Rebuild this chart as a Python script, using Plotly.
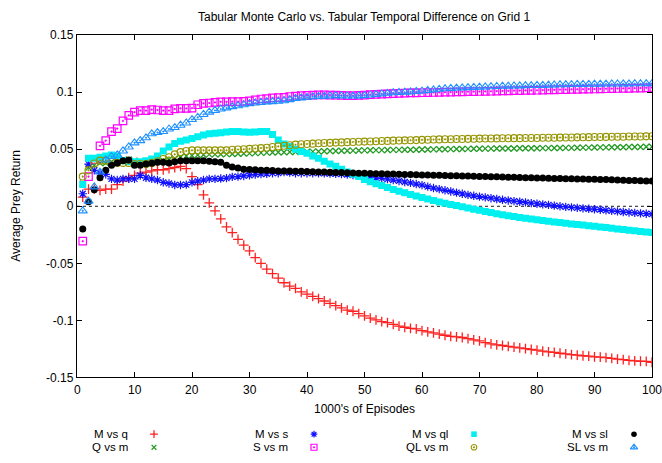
import plotly.graph_objects as go

W, H = 662, 463
ML, MR, MT, MB = 77, 10, 29, 81

episodes = list(range(1, 101))

m_vs_q = [0.008, 0.015, 0.015, 0.014, 0.015, 0.015, 0.019, 0.022, 0.025, 0.027,
          0.029, 0.030, 0.031, 0.032, 0.032, 0.033, 0.034, 0.035, 0.033, 0.026,
          0.019, 0.010, 0.003, -0.004, -0.011, -0.018, -0.023, -0.029, -0.034, -0.039,
          -0.045, -0.050, -0.055, -0.059, -0.063, -0.067, -0.070, -0.072, -0.075, -0.077,
          -0.079, -0.081, -0.083, -0.085, -0.087, -0.089, -0.091, -0.092, -0.094, -0.096,
          -0.098, -0.0995, -0.101, -0.102, -0.1035, -0.105, -0.106, -0.107, -0.1075, -0.109,
          -0.110, -0.111, -0.112, -0.113, -0.114, -0.1145, -0.115, -0.116, -0.117, -0.118,
          -0.1195, -0.1205, -0.1215, -0.122, -0.1228, -0.1234, -0.124, -0.1248, -0.1255, -0.126,
          -0.127, -0.1276, -0.128, -0.1288, -0.1293, -0.130, -0.1305, -0.131, -0.1313, -0.132,
          -0.1322, -0.1327, -0.1333, -0.134, -0.1344, -0.135, -0.1355, -0.1358, -0.136, -0.1367]

q_vs_m = [0.020, 0.034, 0.036, 0.038, 0.038, 0.039, 0.040, 0.040, 0.041, 0.040,
          0.039, 0.038, 0.038, 0.039, 0.040, 0.041, 0.042, 0.043, 0.044, 0.0445,
          0.045, 0.0452, 0.0455, 0.0455, 0.0456, 0.0457, 0.0458, 0.046, 0.0462, 0.0464,
          0.0466, 0.0468, 0.047, 0.0472, 0.0473, 0.0474, 0.0475, 0.0476, 0.0477, 0.0478,
          0.0479, 0.048, 0.0482, 0.0484, 0.0485, 0.0486, 0.0487, 0.0488, 0.0489, 0.049,
          0.0491, 0.0492, 0.0492, 0.0493, 0.0494, 0.0494, 0.0495, 0.0495, 0.0496, 0.0497,
          0.0498, 0.0499, 0.050, 0.050, 0.0501, 0.0502, 0.0502, 0.0503, 0.0504, 0.0504,
          0.0505, 0.0505, 0.0506, 0.0506, 0.0507, 0.0507, 0.0508, 0.0508, 0.0509, 0.0509,
          0.051, 0.051, 0.0511, 0.0511, 0.0512, 0.0512, 0.0513, 0.0514, 0.0514, 0.0515,
          0.0516, 0.0516, 0.0517, 0.0518, 0.0518, 0.0519, 0.052, 0.052, 0.0521, 0.0522]

m_vs_s = [0.011, 0.037, 0.0315, 0.029, 0.028, 0.024, 0.023, 0.024, 0.024, 0.024,
          0.027, 0.025, 0.024, 0.023, 0.021, 0.020, 0.0187, 0.0187, 0.019, 0.021,
          0.022, 0.023, 0.024, 0.024, 0.0243, 0.0247, 0.0258, 0.026, 0.0266, 0.0272,
          0.0277, 0.0283, 0.0285, 0.029, 0.029, 0.030, 0.0295, 0.029, 0.029, 0.029,
          0.029, 0.029, 0.0288, 0.0286, 0.0285, 0.0282, 0.0278, 0.0274, 0.027, 0.0265,
          0.026, 0.025, 0.0245, 0.0238, 0.023, 0.0222, 0.0213, 0.0205, 0.0195, 0.0185,
          0.0172, 0.016, 0.015, 0.014, 0.013, 0.012, 0.011, 0.010, 0.0092, 0.0085,
          0.0078, 0.0071, 0.0064, 0.0057, 0.0051, 0.0045, 0.004, 0.0034, 0.0028, 0.0022,
          0.0017, 0.0012, 0.0006, 0.0, -0.0005, -0.001, -0.0014, -0.0018, -0.0022, -0.0026,
          -0.003, -0.0035, -0.004, -0.0045, -0.005, -0.0054, -0.0058, -0.0062, -0.0065, -0.0068]

s_vs_m = [-0.0306, 0.026, 0.041, 0.053, 0.0575, 0.0655, 0.068, 0.0748, 0.0796, 0.0825,
          0.0839, 0.0839, 0.0847, 0.0844, 0.0839, 0.0839, 0.0853, 0.0858, 0.0858, 0.086,
          0.089, 0.0902, 0.0905, 0.091, 0.0915, 0.0915, 0.0917, 0.0918, 0.0919, 0.0924,
          0.0932, 0.094, 0.0944, 0.095, 0.0953, 0.0955, 0.0962, 0.0966, 0.097, 0.0972,
          0.0975, 0.0976, 0.0977, 0.0975, 0.0975, 0.0972, 0.097, 0.097, 0.0972, 0.0975,
          0.0978, 0.098, 0.0983, 0.0985, 0.0987, 0.099, 0.0992, 0.0993, 0.0994, 0.0995,
          0.0996, 0.0997, 0.0998, 0.100, 0.1001, 0.1002, 0.1003, 0.1004, 0.1005, 0.1006,
          0.1007, 0.1008, 0.101, 0.1011, 0.1012, 0.1013, 0.1014, 0.1015, 0.1016, 0.1017,
          0.1018, 0.102, 0.1021, 0.1022, 0.1023, 0.1024, 0.1025, 0.1026, 0.1027, 0.1028,
          0.1029, 0.103, 0.1031, 0.1032, 0.1033, 0.1034, 0.1035, 0.1036, 0.1038, 0.104]

m_vs_ql = [0.019, 0.042, 0.042, 0.043, 0.044, 0.045, 0.044, 0.040, 0.039, 0.039,
           0.039, 0.040, 0.0415, 0.044, 0.0485, 0.052, 0.055, 0.057, 0.058, 0.0595,
           0.061, 0.0625, 0.0635, 0.064, 0.0645, 0.065, 0.0655, 0.0655, 0.065, 0.0648,
           0.065, 0.0655, 0.0655, 0.063, 0.058, 0.0545, 0.0525, 0.050, 0.048, 0.0465,
           0.044, 0.042, 0.0395, 0.037, 0.035, 0.0325, 0.030, 0.028, 0.026, 0.0235,
           0.0215, 0.0198, 0.0182, 0.0165, 0.0148, 0.0132, 0.0118, 0.0103, 0.009, 0.0077,
           0.0064, 0.005, 0.0038, 0.0027, 0.0016, 0.0006, -0.0005, -0.0015, -0.0025, -0.0035,
           -0.0045, -0.0055, -0.0065, -0.0074, -0.0082, -0.009, -0.0098, -0.0105, -0.0112, -0.0119,
           -0.0125, -0.0131, -0.0137, -0.0143, -0.0149, -0.0155, -0.016, -0.0165, -0.017, -0.0176,
           -0.0182, -0.0187, -0.0193, -0.0198, -0.0204, -0.021, -0.0215, -0.022, -0.0225, -0.023]

ql_vs_m = [0.026, 0.0315, 0.0375, 0.040, 0.040, 0.039, 0.038, 0.038, 0.038, 0.037,
           0.037, 0.037, 0.038, 0.0395, 0.0415, 0.043, 0.0455, 0.0475, 0.0485, 0.049,
           0.049, 0.049, 0.049, 0.049, 0.049, 0.049, 0.0495, 0.0498, 0.050, 0.0503,
           0.0507, 0.051, 0.0513, 0.052, 0.0525, 0.053, 0.0535, 0.054, 0.0543, 0.0546,
           0.0549, 0.0552, 0.0554, 0.0556, 0.0558, 0.056, 0.0562, 0.0564, 0.0566, 0.0567,
           0.0568, 0.057, 0.0572, 0.0573, 0.0575, 0.0576, 0.0578, 0.0579, 0.058, 0.0582,
           0.0583, 0.0585, 0.0586, 0.0587, 0.0588, 0.0589, 0.059, 0.0591, 0.0592, 0.0593,
           0.0594, 0.0594, 0.0595, 0.0596, 0.0596, 0.0597, 0.0597, 0.0598, 0.0598, 0.0599,
           0.060, 0.060, 0.0601, 0.0602, 0.0603, 0.0603, 0.0604, 0.0605, 0.0606, 0.0607,
           0.0607, 0.0608, 0.0609, 0.061, 0.061, 0.0611, 0.0612, 0.0612, 0.0613, 0.0614]

m_vs_sl = [-0.020, 0.004, 0.0145, 0.025, 0.0315, 0.036, 0.038, 0.040, 0.0405, 0.036,
           0.036, 0.037, 0.0378, 0.0385, 0.0385, 0.038, 0.039, 0.040, 0.040, 0.040,
           0.040, 0.040, 0.0394, 0.039, 0.0385, 0.036, 0.0345, 0.0335, 0.0325, 0.0322,
           0.032, 0.0316, 0.0315, 0.0314, 0.031, 0.031, 0.031, 0.0308, 0.0306, 0.0305,
           0.0303, 0.030, 0.030, 0.0298, 0.0296, 0.0295, 0.0293, 0.0292, 0.029, 0.029,
           0.0288, 0.0286, 0.0285, 0.0284, 0.0282, 0.028, 0.0279, 0.0278, 0.0277, 0.0275,
           0.0274, 0.0272, 0.0271, 0.027, 0.0268, 0.0267, 0.0266, 0.0265, 0.0263, 0.0262,
           0.026, 0.0259, 0.0258, 0.0256, 0.0255, 0.0254, 0.0252, 0.0251, 0.025, 0.0248,
           0.0247, 0.0246, 0.0244, 0.0243, 0.0242, 0.0241, 0.024, 0.0239, 0.0238, 0.0237,
           0.0235, 0.0234, 0.0232, 0.023, 0.0229, 0.0227, 0.0226, 0.0224, 0.0222, 0.0221]

sl_vs_m = [-0.004, 0.0045, 0.017, 0.030, 0.0405, 0.0436, 0.045, 0.0485, 0.052, 0.0556,
           0.0575, 0.060, 0.0635, 0.0646, 0.0655, 0.0677, 0.069, 0.071, 0.073, 0.076,
           0.078, 0.0805, 0.0825, 0.084, 0.0853, 0.0862, 0.0873, 0.0881, 0.089, 0.090,
           0.0905, 0.091, 0.0915, 0.0917, 0.092, 0.0925, 0.0935, 0.0945, 0.095, 0.0955,
           0.096, 0.0963, 0.0965, 0.0967, 0.097, 0.0968, 0.0967, 0.0966, 0.0968, 0.097,
           0.0975, 0.098, 0.0985, 0.099, 0.0995, 0.0998, 0.100, 0.1003, 0.1006, 0.101,
           0.1015, 0.102, 0.1025, 0.103, 0.1033, 0.1036, 0.1038, 0.104, 0.1042, 0.1044,
           0.1046, 0.1048, 0.105, 0.1052, 0.1053, 0.1054, 0.1055, 0.1057, 0.1058, 0.1059,
           0.106, 0.1062, 0.1063, 0.1065, 0.1066, 0.1067, 0.1068, 0.1068, 0.1069, 0.107,
           0.107, 0.1071, 0.1072, 0.1072, 0.1073, 0.1073, 0.1074, 0.1074, 0.1075, 0.1075]

series_names = ["M vs q", "Q vs m", "M vs s", "S vs m",
                "M vs ql", "QL vs m", "M vs sl", "SL vs m"]
series_values = [m_vs_q, q_vs_m, m_vs_s, s_vs_m, m_vs_ql, ql_vs_m, m_vs_sl, sl_vs_m]

x_ticks = [0, 10, 20, 30, 40, 50, 60, 70, 80, 90, 100]
x_tick_labels = ["0", "10", "20", "30", "40", "50", "60", "70", "80", "90", "100"]
y_ticks = [-0.15, -0.1, -0.05, 0, 0.05, 0.1, 0.15]
y_tick_labels = ["-0.15", "-0.1", "-0.05", "0", "0.05", "0.1", "0.15"]

title_text = "Tabular Monte Carlo vs. Tabular Temporal Difference on Grid 1"
x_title = "1000's of Episodes"
y_title = "Average Prey Return"

styles = [
    dict(symbol="cross-thin", size=7, color="#ff0000", line=dict(width=1.3, color="#ff2020")),
    dict(symbol="x-thin", size=6, color="#229a22", line=dict(width=1.3, color="#229a22")),
    dict(symbol="asterisk", size=7, color="#0000ff", line=dict(width=1.2, color="#1010ff")),
    dict(symbol="square-open-dot", size=7.5, color="#ff00ff", line=dict(width=1.2, color="#ff00ff")),
    dict(symbol="square", size=7, color="#00f0f0", line=dict(width=0)),
    dict(symbol="circle-open-dot", size=7, color="#959500", line=dict(width=1.1, color="#959500")),
    dict(symbol="circle", size=7, color="#000000", line=dict(width=0)),
    dict(symbol="triangle-up-open-dot", size=8, color="#1e90ff", line=dict(width=1.1, color="#1e90ff")),
]

FONT = "Liberation Sans, Arial, Helvetica, sans-serif"
TXT = dict(family=FONT, size=12, color="black")
KEY_TXT = dict(family=FONT, size=11.5, color="black")


def fx(p):
    return p / W


def fy(p):
    return 1 - p / H


fig = go.Figure()
for name, vals, st in zip(series_names, series_values, styles):
    fig.add_trace(go.Scatter(x=episodes, y=vals, mode="markers", name=name,
                             marker=st, showlegend=False))

# gnuplot-style key: text right-aligned, sample symbol to its right (pixel space)
key_text_right = 129
key_sym_x = 154
key_col_pitch = 160
key_row_y = [440.5, 454]
annotations = []
for i, (name, st) in enumerate(zip(series_names, styles)):
    col, row = i // 2, i % 2
    tx = key_text_right + col * key_col_pitch
    sx = key_sym_x + col * key_col_pitch
    ty = key_row_y[row]
    annotations.append(dict(x=fx(tx), y=fy(ty), xref="paper", yref="paper",
                            text=name, showarrow=False, xanchor="right", yanchor="middle",
                            font=KEY_TXT, borderpad=0))
    key_marker = dict(st)
    key_marker["size"] = st["size"] * 0.8
    fig.add_trace(go.Scatter(x=[sx], y=[ty], xaxis="x2", yaxis="y2",
                             mode="markers", marker=key_marker, showlegend=False,
                             hoverinfo="skip"))

annotations.append(dict(x=fx(364), y=fy(415), xref="paper", yref="paper",
                        text=x_title, showarrow=False, xanchor="center", yanchor="middle",
                        font=TXT))
annotations.append(dict(x=fx(16), y=fy(205), xref="paper", yref="paper",
                        text=y_title, showarrow=False, textangle=-90,
                        xanchor="center", yanchor="middle", font=TXT))
annotations.append(dict(x=fx(364), y=fy(10), xref="paper", yref="paper",
                        text=title_text, showarrow=False, xanchor="center", yanchor="middle",
                        font=TXT))
# x tick labels as text under each tick (gnuplot lets the last one reach the edge)
for v, lab in zip(x_ticks, x_tick_labels):
    annotations.append(dict(x=v, y=fy(395), xref="x", yref="paper", text=lab,
                            showarrow=False, xanchor="center", yanchor="middle",
                            font=TXT))

fig.update_layout(
    width=W, height=H, autosize=False,
    margin=dict(l=0, r=0, t=0, b=0, pad=0),
    paper_bgcolor="white", plot_bgcolor="rgba(0,0,0,0)",
    font=TXT,
    showlegend=False,
    xaxis=dict(domain=[ML / W, (W - MR) / W], range=[0, 100], tickvals=x_ticks,
               showticklabels=False, ticks="inside", ticklen=5,
               tickcolor="black", mirror="ticks", showline=True, linecolor="black",
               linewidth=1.3, showgrid=False, zeroline=False, anchor="y"),
    yaxis=dict(domain=[MB / H, (H - MT) / H], range=[-0.15, 0.15], tickvals=y_ticks,
               ticktext=y_tick_labels, ticks="inside", ticklen=5, tickcolor="black",
               mirror="ticks", showline=True, linecolor="black", linewidth=1.3,
               showgrid=False, zeroline=False, tickfont=TXT, anchor="x"),
    xaxis2=dict(domain=[0, 1], range=[0, W], visible=False, anchor="y2"),
    yaxis2=dict(domain=[0, 1], range=[H, 0], visible=False, anchor="x2"),
    shapes=[dict(type="line", xref="x domain", yref="y", x0=0, x1=1, y0=0, y1=0,
                 line=dict(color="black", width=0.9, dash="dot"), layer="below")],
    annotations=annotations,
)

fig.write_html("out.html")
